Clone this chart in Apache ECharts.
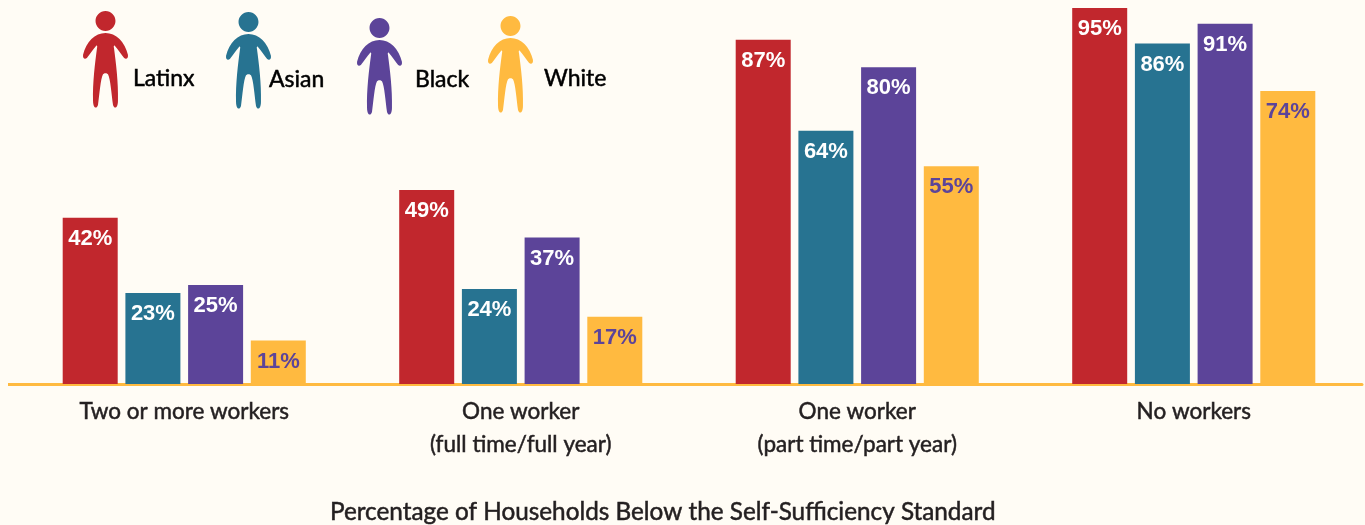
<!DOCTYPE html>
<html>
<head>
<meta charset="utf-8">
<style>
  html, body { margin: 0; padding: 0; background: #fffcf5; }
  #chart { width: 1365px; height: 525px; }
</style>
<script src="https://cdn.jsdelivr.net/npm/echarts@6/dist/echarts.min.js"></script>
</head>
<body>
<div id="chart"></div>
<script>
const categories = ["Two or more workers", "One worker\n(full time/full year)", "One worker\n(part time/part year)", "No workers"];
const latinx = [42, 49, 87, 95];
const asian = [23, 24, 64, 86];
const black = [25, 37, 80, 91];
const white = [11, 17, 55, 74];

const TEXT_FONT = "Lato";
// person shape for the legend, drawn in a 45 x 97 box
const PERSON = "path://M22.5 0C28 0 32.5 4.5 32.5 10C32.5 15.5 28 20 22.5 20C17 20 12.5 15.5 12.5 10C12.5 4.5 17 0 22.5 0Z" +
  "M22.5 22C33 22 42 31 45 44C45.5 48 43 49 41 47C38 43 34.5 38 32 35C31 34 30.5 35 31 37C33 52 35.5 72 35 90C35 98 31 98.5 30 94C28.5 84 27.5 68 25 63.5C24 62 21 62 20 63.5C17.5 68 16.5 84 15 94C14 98.5 10 98 10 90C9.5 72 12 52 14 37C14.5 35 14 34 13 35C10.5 38 7 43 4 47C2 49 -0.5 48 0 44C3 31 12 22 22.5 22Z";

const chart = echarts.init(document.getElementById("chart"));

const makeSeries = (name, data, color, labelColor) => ({
  name,
  type: "bar",
  data,
  barWidth: 55,
  barGap: "14%",
  itemStyle: { color },
  label: {
    show: true,
    position: "insideTop",
    distance: 10,
    formatter: "{c}%",
    color: labelColor,
    fontFamily: "Liberation Sans",
    fontWeight: "bold",
    fontSize: 22,
  },
});

const makeLegend = (name, left, top, color, textDown, textShift) => ({
  data: [{ name, icon: PERSON, itemStyle: { color } }],
  left,
  top,
  padding: 0,
  itemWidth: 45,
  itemHeight: 97,
  itemGap: 0,
  selectedMode: false,
  formatter: "{t|{name}}",
  textStyle: {
    rich: {
      t: {
        fontFamily: TEXT_FONT,
        fontSize: 23,
        color: "#000",
        textBorderColor: "#000",
        textBorderWidth: 0.5,
        padding: [textDown, 0, 0, textShift],
      },
    },
  },
});

chart.setOption({
  backgroundColor: "#fffcf5",
  animation: false,
  title: {
    text: "Percentage of Households Below the Self-Sufficiency Standard",
    left: 330,
    top: 500,
    padding: 0,
    textStyle: {
      fontFamily: TEXT_FONT,
      fontWeight: "normal",
      fontSize: 24.3,
      color: "#231f20",
      textBorderColor: "#231f20",
      textBorderWidth: 0.5,
    },
  },
  legend: [
    makeLegend("Latinx", 83, 11, "#c1272d", 38, 0),
    makeLegend("Asian", 226, 12, "#277391", 38, -7),
    makeLegend("Black", 357, 18, "#5c4499", 26, 8),
    makeLegend("White", 488, 16, "#ffba40", 28, 6),
  ],
  grid: { left: 16, right: 3, top: 4, bottom: 141 },
  xAxis: {
    type: "category",
    data: categories,
    axisLine: { lineStyle: { color: "#ffba40", width: 3 } },
    axisTick: { show: false },
    axisLabel: {
      fontFamily: TEXT_FONT,
      fontSize: 22.5,
      lineHeight: 33,
      color: "#231f20",
      textBorderColor: "#231f20",
      textBorderWidth: 0.5,
      margin: 11,
    },
  },
  yAxis: { type: "value", min: 0, max: 96, show: false },
  series: [
    makeSeries("Latinx", latinx, "#c1272d", "#fff"),
    makeSeries("Asian", asian, "#277391", "#fff"),
    makeSeries("Black", black, "#5c4499", "#fff"),
    makeSeries("White", white, "#ffba40", "#5c4499"),
  ],
  // axis line starts a little left of the first band
  graphic: [{
    type: "rect",
    shape: { x: 8, y: 383, width: 10, height: 3 },
    style: { fill: "#ffba40" },
  }],
});
</script>
</body>
</html>
